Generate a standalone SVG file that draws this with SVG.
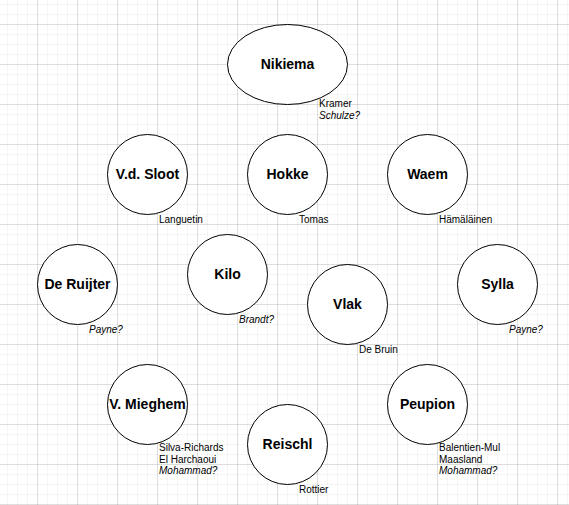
<svg xmlns="http://www.w3.org/2000/svg" width="569" height="505" viewBox="0 0 569 505">
<style>
.node{fill:#ffffff;stroke:#000000;stroke-width:1}
.name{font-family:"Liberation Sans",Arial,Helvetica,sans-serif;font-size:14px;font-weight:bold;fill:#000000;text-anchor:middle}
.lbl{font-family:"Liberation Sans",Arial,Helvetica,sans-serif;font-size:10px;fill:#000000}
.it{font-style:italic}
</style>
<rect x="0" y="0" width="569" height="505" fill="#ffffff"/>
<g id="grid">
<line x1="0" y1="252.5" x2="569" y2="252.5" stroke="#000" stroke-opacity="0.04" stroke-width="505" stroke-dasharray="1 9" stroke-dashoffset="3"/>
<line x1="284.5" y1="0" x2="284.5" y2="505" stroke="#000" stroke-opacity="0.04" stroke-width="569" stroke-dasharray="1 9" stroke-dashoffset="6"/>
<line x1="0" y1="252.5" x2="569" y2="252.5" stroke="#000" stroke-opacity="0.09" stroke-width="505" stroke-dasharray="1 39" stroke-dashoffset="3"/>
<line x1="284.5" y1="0" x2="284.5" y2="505" stroke="#000" stroke-opacity="0.09" stroke-width="569" stroke-dasharray="1 39" stroke-dashoffset="16"/>
</g>
<g id="connectors"></g>
<g id="nikiema">
<ellipse class="node" cx="287.5" cy="64.5" rx="60" ry="40"/>
<text class="name" x="287.5" y="69">Nikiema</text>
<text class="lbl" x="319" y="107">Kramer</text>
<text class="lbl it" x="319" y="118.5">Schulze?</text>
</g>
<g id="vdsloot">
<circle class="node" cx="147.5" cy="174.5" r="40"/>
<text class="name" x="147.5" y="179">V.d. Sloot</text>
<text class="lbl" x="159" y="222.5">Languetin</text>
</g>
<g id="hokke">
<circle class="node" cx="287.5" cy="174.5" r="40"/>
<text class="name" x="287.5" y="179">Hokke</text>
<text class="lbl" x="299" y="222.5">Tomas</text>
</g>
<g id="waem">
<circle class="node" cx="427.5" cy="174.5" r="40"/>
<text class="name" x="427.5" y="179">Waem</text>
<text class="lbl" x="439" y="222.5">Hämäläinen</text>
</g>
<g id="deruijter">
<circle class="node" cx="77.5" cy="284.5" r="40"/>
<text class="name" x="77.5" y="289">De Ruijter</text>
<text class="lbl it" x="89" y="332.5">Payne?</text>
</g>
<g id="kilo">
<circle class="node" cx="227.5" cy="274.5" r="40"/>
<text class="name" x="227.5" y="279">Kilo</text>
<text class="lbl it" x="239" y="322.5">Brandt?</text>
</g>
<g id="vlak">
<circle class="node" cx="347.5" cy="304.5" r="40"/>
<text class="name" x="347.5" y="309">Vlak</text>
<text class="lbl" x="359" y="352.5">De Bruin</text>
</g>
<g id="sylla">
<circle class="node" cx="497.5" cy="284.5" r="40"/>
<text class="name" x="497.5" y="289">Sylla</text>
<text class="lbl it" x="509" y="332.5">Payne?</text>
</g>
<g id="vmieghem">
<circle class="node" cx="147.5" cy="404.5" r="40"/>
<text class="name" x="147.5" y="409">V. Mieghem</text>
<text class="lbl" x="159" y="451.3">Silva-Richards</text>
<text class="lbl" x="159" y="462.8">El Harchaoui</text>
<text class="lbl it" x="159" y="474.3">Mohammad?</text>
</g>
<g id="reischl">
<circle class="node" cx="287.5" cy="444.5" r="40"/>
<text class="name" x="287.5" y="449">Reischl</text>
<text class="lbl" x="299" y="492.5">Rottier</text>
</g>
<g id="peupion">
<circle class="node" cx="427.5" cy="404.5" r="40"/>
<text class="name" x="427.5" y="409">Peupion</text>
<text class="lbl" x="439" y="451.3">Balentien-Mul</text>
<text class="lbl" x="439" y="462.8">Maasland</text>
<text class="lbl it" x="439" y="474.3">Mohammad?</text>
</g>
</svg>
